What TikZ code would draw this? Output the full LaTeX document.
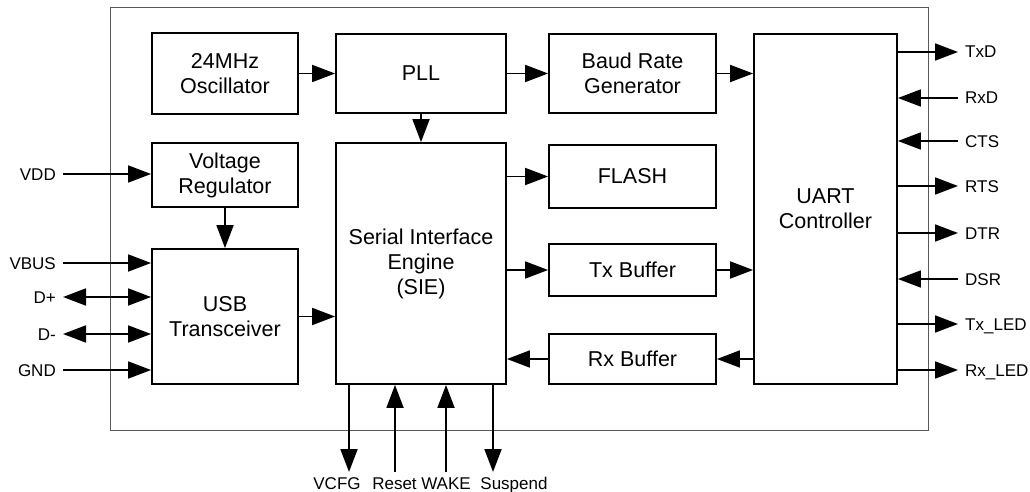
\documentclass[tikz,border=0pt]{standalone}
\usepackage{fontspec}
\setmainfont{Liberation Sans}
\usetikzlibrary{arrows.meta}

\tikzset{
  blk/.style={draw, line width=1.8pt, align=center, inner sep=0pt, font=\fontsize{21.5}{25}\selectfont},
  pinlbl/.style={inner sep=0pt, inner xsep=7pt, text height=12pt, text depth=0pt, font=\fontsize{17}{20}\selectfont},
  sig/.style={line width=1.8pt, -{Triangle[length=23pt,width=17pt]}},
  bisig/.style={line width=1.8pt, {Triangle[length=23pt,width=17pt]}-{Triangle[length=23pt,width=17pt]}},
  frame/.style={draw=black!65, line width=0.9pt},
}

\begin{document}
\begin{tikzpicture}[x=1pt,y=1pt,yscale=-1]
\useasboundingbox (0,0) rectangle (1030,492);

%chip outline
\draw[frame] (110,7) rectangle (928,430);

%blocks
\node[blk, minimum width=146pt, minimum height=81pt] (osc) at (225,73.5) {24MHz\\Oscillator};
\node[blk, minimum width=170pt, minimum height=79pt] (pll) at (421,73.5) {PLL};
\node[blk, minimum width=167pt, minimum height=79pt] (baud) at (632.5,73.5) {Baud Rate\\Generator};
\node[blk, minimum width=143pt, minimum height=350pt] (uart) at (825.5,209) {UART\\Controller};
\node[blk, minimum width=146pt, minimum height=64pt] (vreg) at (225,175) {Voltage\\Regulator};
\node[blk, minimum width=170pt, minimum height=241pt] (sie) at (421,263.5) {Serial Interface\\Engine\\(SIE)};
\node[blk, minimum width=167pt, minimum height=63pt] (flash) at (632.5,176.5) {FLASH};
\node[blk, minimum width=167pt, minimum height=52pt] (txbuf) at (632.5,270) {Tx Buffer};
\node[blk, minimum width=167pt, minimum height=50pt] (rxbuf) at (632.5,359) {Rx Buffer};
\node[blk, minimum width=146pt, minimum height=135pt] (usb) at (225,316.5) {USB\\Transceiver};

%internal paths
\draw[sig] (osc.east) -- (pll.west);
\draw[sig] (pll.east) -- (baud.west);
\draw[sig] (baud.east) -- (baud.east -| uart.west);
\draw[sig] (pll.south) -- (sie.north);
\draw[sig] (vreg.south) -- (usb.north);
\draw[sig] (usb.east) -- (usb.east -| sie.west);
\draw[sig] (flash.west -| sie.east) -- (flash.west);
\draw[sig] (txbuf.west -| sie.east) -- (txbuf.west);
\draw[sig] (txbuf.east) -- (txbuf.east -| uart.west);
\draw[sig] (rxbuf.east -| uart.west) -- (rxbuf.east);
\draw[sig] (rxbuf.west) -- (rxbuf.west -| sie.east);

%left pins
\node[pinlbl, anchor=east] (vdd) at (63,174) {VDD};
\node[pinlbl, anchor=east] (vbus) at (63,263) {VBUS};
\node[pinlbl, anchor=east] (dp) at (63,297) {D+};
\node[pinlbl, anchor=east] (dm) at (63,334) {D-};
\node[pinlbl, anchor=east] (gnd) at (63,370) {GND};
\draw[sig] (vdd.east) -- (vdd.east -| vreg.west);
\draw[sig] (vbus.east) -- (vbus.east -| usb.west);
\draw[bisig] (dp.east) -- (dp.east -| usb.west);
\draw[bisig] (dm.east) -- (dm.east -| usb.west);
\draw[sig] (gnd.east) -- (gnd.east -| usb.west);

%right pins
\node[pinlbl, anchor=west] (txd) at (958,52) {TxD};
\node[pinlbl, anchor=west] (rxd) at (958,98) {RxD};
\node[pinlbl, anchor=west] (cts) at (958,141) {CTS};
\node[pinlbl, anchor=west] (rts) at (958,186) {RTS};
\node[pinlbl, anchor=west] (dtr) at (958,233) {DTR};
\node[pinlbl, anchor=west] (dsr) at (958,279) {DSR};
\node[pinlbl, anchor=west] (txled) at (958,324) {Tx\_LED};
\node[pinlbl, anchor=west] (rxled) at (958,370) {Rx\_LED};
\draw[sig] (txd.west -| uart.east) -- (txd.west);
\draw[sig] (rxd.west) -- (rxd.west -| uart.east);
\draw[sig] (cts.west) -- (cts.west -| uart.east);
\draw[sig] (rts.west -| uart.east) -- (rts.west);
\draw[sig] (dtr.west -| uart.east) -- (dtr.west);
\draw[sig] (dsr.west) -- (dsr.west -| uart.east);
\draw[sig] (txled.west -| uart.east) -- (txled.west);
\draw[sig] (rxled.west -| uart.east) -- (rxled.west);

%bottom pins
\coordinate (vcfgpin) at (349,472);
\coordinate (resetpin) at (395,472);
\coordinate (wakepin) at (446,472);
\coordinate (susppin) at (493,472);
\node[pinlbl, inner xsep=0pt, anchor=north] (vcfg) at (337,477) {VCFG};
\node[pinlbl, inner xsep=0pt, anchor=north] (reset) at (394.5,477) {Reset};
\node[pinlbl, inner xsep=0pt, anchor=north] (wake) at (446,477) {WAKE};
\node[pinlbl, inner xsep=0pt, anchor=north] (susp) at (514,477) {Suspend};
\draw[sig] (sie.south -| vcfgpin) -- (vcfgpin);
\draw[sig] (resetpin) -- (sie.south -| resetpin);
\draw[sig] (wakepin) -- (sie.south -| wakepin);
\draw[sig] (sie.south -| susppin) -- (susppin);
\end{tikzpicture}
\end{document}
